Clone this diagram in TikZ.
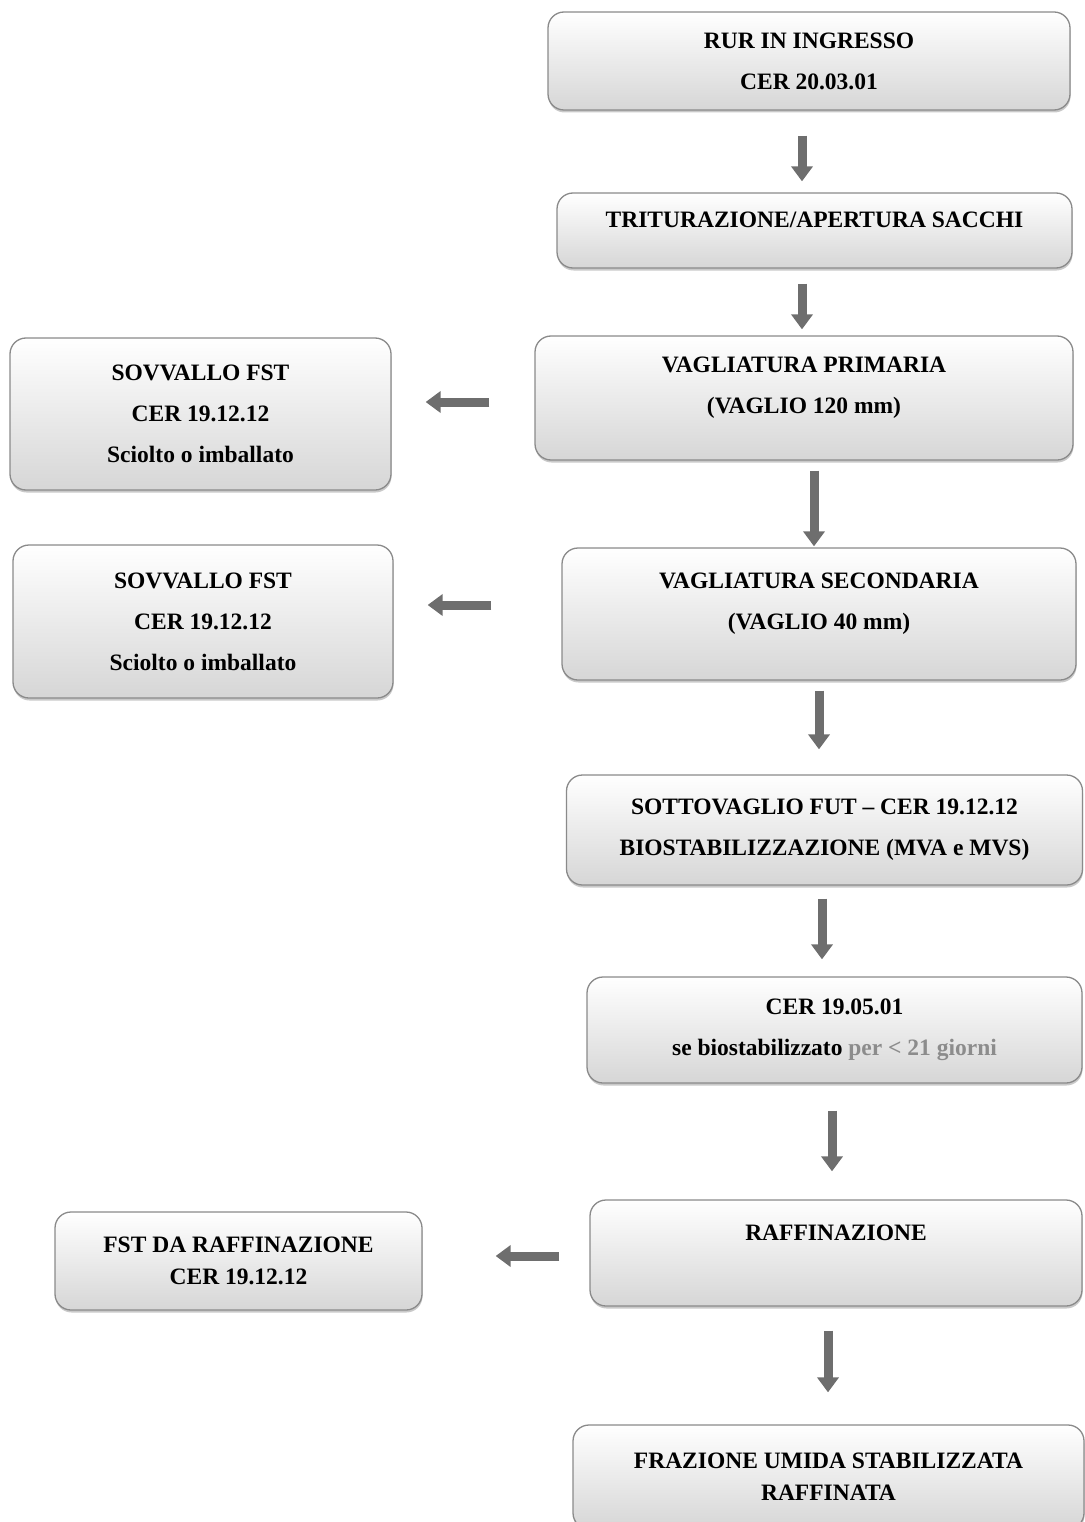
\documentclass[tikz,border=0pt]{standalone}
\usepackage{fontspec}
\setmainfont{Liberation Serif}
\usetikzlibrary{arrows.meta,shadows}
\definecolor{boxedge}{HTML}{8A8A8A}
\definecolor{boxbottom}{HTML}{D6D6D6}
\definecolor{arrowgray}{HTML}{6E6E6E}
\definecolor{softtext}{HTML}{8C8C8C}
\begin{document}
\begin{tikzpicture}[x=1pt,y=-1pt,
  stagebox/.style={draw=boxedge, line width=1.3pt, rounded corners=16pt,
    top color=white, bottom color=boxbottom, inner sep=0pt, align=center,
    font=\fontsize{23.5}{41}\selectfont\bfseries,
    drop shadow={shadow xshift=0.5pt, shadow yshift=-2.5pt, fill=gray!60, opacity=0.7}},
  flowarrow/.style={arrowgray, line width=9pt, -{Triangle[width=21pt,length=15pt]}}]
  \useasboundingbox (0,0) rectangle (1084,1522);
  \node[stagebox, minimum width=522pt, minimum height=98pt] (rur) at (809,61) {RUR IN INGRESSO\\CER 20.03.01};
  \node[stagebox, minimum width=515pt, minimum height=75pt, text height=34.5pt, text depth=40.5pt] (trit) at (814.5,230.5) {TRITURAZIONE/APERTURA SACCHI};
  \node[stagebox, minimum width=538pt, minimum height=124pt, text height=77.5pt, text depth=46.5pt] (vprim) at (804,398) {VAGLIATURA PRIMARIA\\(VAGLIO 120 mm)};
  \node[stagebox, minimum width=381pt, minimum height=152pt] (sovvA) at (200.5,414) {SOVVALLO FST\\CER 19.12.12\\Sciolto o imballato};
  \node[stagebox, minimum width=514pt, minimum height=132pt, text height=81.5pt, text depth=50.5pt] (vsec) at (819,614) {VAGLIATURA SECONDARIA\\(VAGLIO 40 mm)};
  \node[stagebox, minimum width=380pt, minimum height=153pt] (sovvB) at (203,621.5) {SOVVALLO FST\\CER 19.12.12\\Sciolto o imballato};
  \node[stagebox, minimum width=516pt, minimum height=110pt] (sotto) at (824.5,830) {SOTTOVAGLIO FUT -- CER 19.12.12\\BIOSTABILIZZAZIONE (MVA e MVS)};
  \node[stagebox, minimum width=495pt, minimum height=106pt] (cer) at (834.5,1030) {CER 19.05.01\\se biostabilizzato \textcolor{softtext}{per < 21 giorni}};
  \node[stagebox, minimum width=492pt, minimum height=106pt, text height=40.5pt, text depth=65.5pt] (raff) at (836,1253) {RAFFINAZIONE};
  \node[stagebox, minimum width=367pt, minimum height=98pt, font=\fontsize{23.5}{32}\selectfont\bfseries] (fst) at (238.5,1261) {FST DA RAFFINAZIONE\\CER 19.12.12};
  \node[stagebox, minimum width=511pt, minimum height=104pt, font=\fontsize{23.5}{32}\selectfont\bfseries] (fraz) at (828.5,1477) {FRAZIONE UMIDA STABILIZZATA\\RAFFINATA};
  % main line
  \draw[flowarrow, shorten <=25pt, shorten >=11pt] ([xshift=-7pt]rur.south) -- ([xshift=-7pt]rur.south |- trit.north);
  \draw[flowarrow, shorten <=15pt, shorten >=6pt] ([xshift=-12.5pt]trit.south) -- ([xshift=-12.5pt]trit.south |- vprim.north);
  \draw[flowarrow, shorten <=10pt, shorten >=1pt] ([xshift=10pt]vprim.south) -- ([xshift=10pt]vprim.south |- vsec.north);
  \draw[flowarrow, shorten <=10pt, shorten >=25pt] (vsec.south) -- (vsec.south |- sotto.north);
  \draw[flowarrow, shorten <=13pt, shorten >=17pt] ([xshift=-2.5pt]sotto.south) -- ([xshift=-2.5pt]sotto.south |- cer.north);
  \draw[flowarrow, shorten <=27pt, shorten >=28pt] ([xshift=-2.5pt]cer.south) -- ([xshift=-2.5pt]cer.south |- raff.north);
  \draw[flowarrow, shorten <=24pt, shorten >=32pt] ([xshift=-8pt]raff.south) -- ([xshift=-8pt]raff.south |- fraz.north);
  % side outputs
  \draw[flowarrow, shorten <=45pt, shorten >=34pt] ([yshift=-4pt]vprim.west) -- ([yshift=-4pt]vprim.west -| sovvA.east);
  \draw[flowarrow, shorten <=70pt, shorten >=34pt] ([yshift=9pt]vsec.west) -- ([yshift=9pt]vsec.west -| sovvB.east);
  \draw[flowarrow, shorten <=30pt, shorten >=73pt] ([yshift=-3pt]raff.west) -- ([yshift=-3pt]raff.west -| fst.east);
\end{tikzpicture}
\end{document}
